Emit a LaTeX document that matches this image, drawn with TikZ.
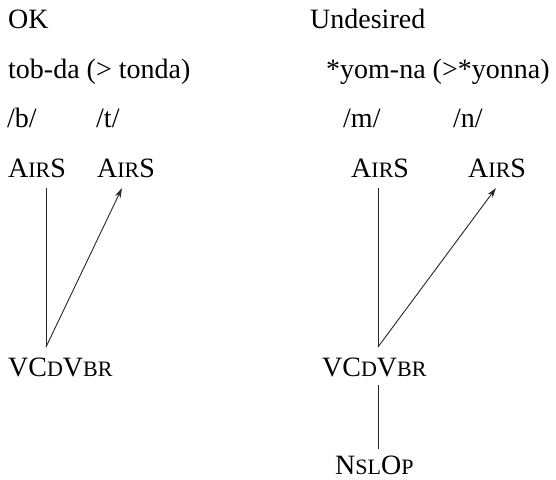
\documentclass[tikz,border=0pt]{standalone}
\usepackage{fontspec}
\setmainfont{Liberation Serif}
\newfontfamily\glossfont{Liberation Serif}
\usetikzlibrary{arrows.meta}
% faked small capitals: smaller upper-case letters
\newcommand{\smallcap}[1]{{\fontsize{22}{22}\selectfont #1}}
\begin{document}
\begin{tikzpicture}[x=1pt,y=-1pt,
  lbl/.style={anchor=base west,inner sep=0pt,font=\glossfont\fontsize{28}{30}\selectfont},
  link/.style={line width=0.9pt,black!85},
  assoc/.style={link,-{Stealth[length=10pt,width=6pt]}}]
\useasboundingbox (0,0) rectangle (556,479);
% column headings and forms
\node[lbl] (ok)  at (8,28)   {OK};
\node[lbl] (und) at (310,28) {Undesired};
\node[lbl] (tob) at (8,78)   {tob-da (> tonda)};
\node[lbl] (yom) at (326,78) {*yom-na (>*yonna)};
\node[lbl] (b) at (7,127)   {/b/};
\node[lbl] (t) at (96,127)  {/t/};
\node[lbl] (m) at (343,127) {/m/};
\node[lbl] (n) at (453,127) {/n/};
% feature tiers
\node[lbl] (a1) at (8,177)   {A\smallcap{IR}S};
\node[lbl] (a2) at (97,177)  {A\smallcap{IR}S};
\node[lbl] (a3) at (351,177) {A\smallcap{IR}S};
\node[lbl] (a4) at (468,177) {A\smallcap{IR}S};
\node[lbl] (v1) at (8,376)   {VC\smallcap{D}V\smallcap{BR}};
\node[lbl] (v2) at (322,376) {VC\smallcap{D}V\smallcap{BR}};
\node[lbl] (ns) at (335,474) {N\smallcap{SL}O\smallcap{P}};
% association line end points
\coordinate (a1b) at (46,188);
\coordinate (a2b) at (122,188);
\coordinate (v1t) at (46,347);
\coordinate (a3b) at (378,188);
\coordinate (a4b) at (496,188);
\coordinate (v2t) at (378,347);
\coordinate (v2b) at (378,385);
\coordinate (nst) at (378,449);
% associations
\draw[link]  (v1t) -- (a1b);
\draw[assoc] (v1t) -- (a2b);
\draw[link]  (v2t) -- (a3b);
\draw[assoc] (v2t) -- (a4b);
\draw[link]  (v2b) -- (nst);
\end{tikzpicture}
\end{document}
